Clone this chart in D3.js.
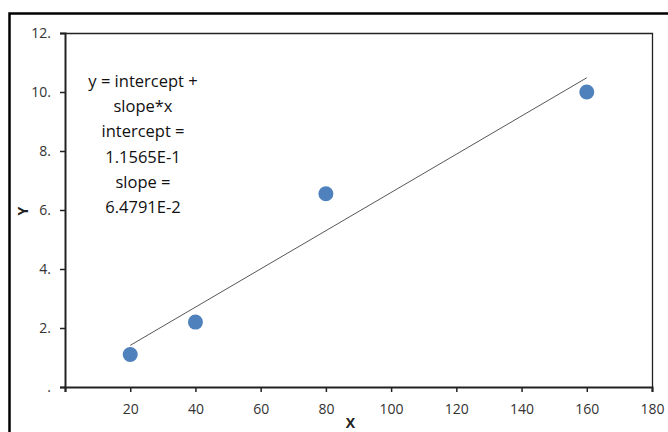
<!DOCTYPE html>
<html>
<head>
<meta charset="utf-8">
<script src="https://cdn.jsdelivr.net/npm/d3@7"></script>
<style>
  body { margin: 0; background: #fff; }
  svg { display: block; }
  .tick text { font-family: "Open Sans", "Liberation Sans", sans-serif; font-size: 14px; fill: #333; }
</style>
</head>
<body>
<div id="chart"></div>
<script>
// data
let x_values = [20, 40, 80, 160];
let y_values = [1.1, 2.2, 6.55, 10.0];
let fit_intercept = 0.11565;
let fit_slope = 0.064791;
let x_ticks = [0, 20, 40, 60, 80, 100, 120, 140, 160, 180];
let y_ticks = [0, 2, 4, 6, 8, 10, 12];
let note_lines = ["y = intercept +", "slope*x", "intercept =", "1.1565E-1", "slope =", "6.4791E-2"];

let w = 668, h = 432;
let m_left = 65, m_top = 33, m_right = 652, m_bottom = 387;

let svg = d3.select("#chart").append("svg")
    .attr("width", w)
    .attr("height", h);

// outer frame (right/bottom edges fall outside the picture)
svg.append("rect")
    .attr("x", 9.5).attr("y", 13.5)
    .attr("width", 700).attr("height", 500)
    .attr("fill", "none")
    .attr("stroke", "#000")
    .attr("stroke-width", 2.5);

const x = d3.scaleLinear().domain([0, 180]).range([m_left, m_right]);
const y = d3.scaleLinear().domain([0, 12]).range([m_bottom, m_top]);

// plot box top/right
svg.append("path")
    .attr("d", "M" + m_left + "," + (m_top + 0.5) + "H" + (m_right + 0.5) + "V" + m_bottom)
    .attr("fill", "none")
    .attr("stroke", "#222")
    .attr("stroke-width", 1.3);

let yAxis = svg.append("g")
    .attr("transform", "translate(" + m_left + ",0)")
    .call(d3.axisLeft(y).tickValues(y_ticks).tickSize(5).tickPadding(9)
        .tickFormat(function(d){ return d === 0 ? "." : d + "."; }));
yAxis.select(".domain").attr("stroke", "#222").attr("stroke-width", 2);
yAxis.selectAll(".tick line").attr("stroke", "#222").attr("stroke-width", 1.5);

let xAxis = svg.append("g")
    .attr("transform", "translate(0," + m_bottom + ")")
    .call(d3.axisBottom(x).tickValues(x_ticks).tickSize(5).tickPadding(12)
        .tickFormat(function(d){ return d === 0 ? "" : d; }));
xAxis.select(".domain").attr("stroke", "#222").attr("stroke-width", 2);
xAxis.selectAll(".tick line").attr("stroke", "#222").attr("stroke-width", 1.5);

// axis titles
svg.append("text")
    .attr("x", (m_left + m_right) / 2 - 8).attr("y", 428)
    .attr("text-anchor", "middle")
    .style("font-family", "Open Sans, Liberation Sans, sans-serif")
    .style("font-size", "14px").style("font-weight", "bold").style("fill", "#222")
    .text("X");

svg.append("text")
    .attr("transform", "translate(28,211) rotate(-90)")
    .attr("text-anchor", "middle")
    .style("font-family", "Open Sans, Liberation Sans, sans-serif")
    .style("font-size", "14px").style("font-weight", "bold").style("fill", "#222")
    .text("Y");

// fitted line
let x0 = d3.min(x_values), x1 = d3.max(x_values);
svg.append("line")
    .attr("x1", x(x0)).attr("y1", y(fit_intercept + fit_slope * x0))
    .attr("x2", x(x1)).attr("y2", y(fit_intercept + fit_slope * x1))
    .attr("stroke", "#444")
    .attr("stroke-width", 0.9);

// points
svg.append("g").selectAll("circle")
    .data(x_values)
    .enter().append("circle")
    .attr("cx", function(d){ return x(d); })
    .attr("cy", function(d, i){ return y(y_values[i]); })
    .attr("r", 7.5)
    .attr("fill", "#4f81bd");

// annotation
svg.append("g").selectAll("text")
    .data(note_lines)
    .enter().append("text")
    .attr("x", 143)
    .attr("y", function(d, i){ return 87 + i * 25.2; })
    .attr("text-anchor", "middle")
    .style("font-family", "Open Sans, Liberation Sans, sans-serif")
    .style("font-size", "16.5px")
    .style("fill", "#111")
    .text(function(d){ return d; });
</script>
</body>
</html>
